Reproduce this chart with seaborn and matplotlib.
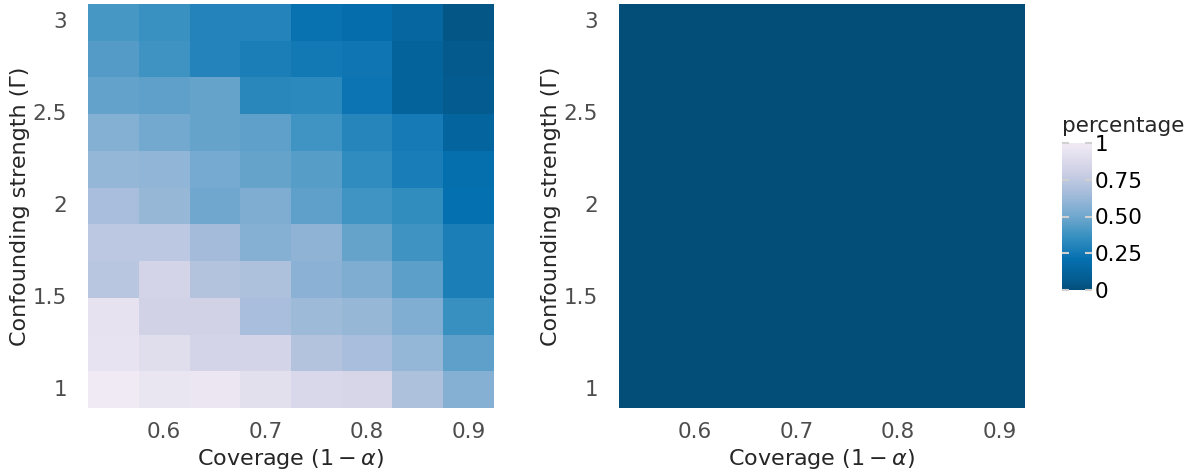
import matplotlib.pyplot as plt
import numpy as np
import pandas as pd
import seaborn as sns
from matplotlib.colors import LinearSegmentedColormap

COVERAGE = [0.55, 0.60, 0.65, 0.70, 0.75, 0.80, 0.85, 0.90]
GAMMA = [3.0, 2.8, 2.6, 2.4, 2.2, 2.0, 1.8, 1.6, 1.4, 1.2, 1.0]

# share of runs (rows: Gamma from 3 down to 1, cols: coverage)
PCT_LEFT = [
    [0.40, 0.37, 0.30, 0.30, 0.22, 0.19, 0.14, 0.04],
    [0.43, 0.38, 0.30, 0.28, 0.25, 0.24, 0.12, 0.06],
    [0.47, 0.46, 0.48, 0.32, 0.33, 0.23, 0.12, 0.07],
    [0.56, 0.51, 0.48, 0.46, 0.39, 0.31, 0.26, 0.13],
    [0.61, 0.60, 0.52, 0.48, 0.44, 0.34, 0.27, 0.20],
    [0.67, 0.62, 0.50, 0.54, 0.46, 0.39, 0.35, 0.21],
    [0.74, 0.74, 0.66, 0.57, 0.59, 0.48, 0.38, 0.28],
    [0.73, 0.83, 0.71, 0.69, 0.58, 0.54, 0.45, 0.28],
    [0.93, 0.82, 0.82, 0.67, 0.64, 0.62, 0.55, 0.36],
    [0.94, 0.90, 0.83, 0.83, 0.71, 0.67, 0.61, 0.46],
    [1.00, 0.95, 0.96, 0.92, 0.86, 0.85, 0.69, 0.57],
]
PCT_RIGHT = [[0.0] * len(COVERAGE) for _ in GAMMA]

X_TICKS = [0.6, 0.7, 0.8, 0.9]
Y_TICKS = [1, 1.5, 2, 2.5, 3]
CBAR_TICKS = [0, 0.25, 0.5, 0.75, 1]
CBAR_LABELS = ["0", "0.25", "0.50", "0.75", "1"]

# truncated, reversed PuBu
pubu = plt.get_cmap("PuBu")
cmap = LinearSegmentedColormap.from_list(
    "pubu_trunc", pubu(np.linspace(0.92, 0.1, 256))
)

sns.set_style("white")
plt.rcParams["font.family"] = ["DejaVu Sans"]

fig = plt.figure(figsize=(12.02, 4.74), dpi=100)
W, H = 1202, 474
ax_left = fig.add_axes([88 / W, 1 - 408 / H, 406 / W, 404 / H])
ax_right = fig.add_axes([619 / W, 1 - 408 / H, 406 / W, 404 / H])
cax = fig.add_axes([1062 / W, 1 - 290 / H, 30 / W, 147 / H])

dx = COVERAGE[1] - COVERAGE[0]
dy = GAMMA[0] - GAMMA[1]


def draw(ax, values, with_cbar):
    df = pd.DataFrame(values, index=GAMMA, columns=COVERAGE)
    sns.heatmap(
        df, ax=ax, cmap=cmap, vmin=0, vmax=1,
        cbar=with_cbar, cbar_ax=cax if with_cbar else None,
        linewidths=0,
    )
    x0 = COVERAGE[0] - dx / 2
    y_top = GAMMA[0] + dy / 2
    ax.set_xticks([(v - x0) / dx for v in X_TICKS])
    ax.set_xticklabels([f"{v:g}" for v in X_TICKS], rotation=0)
    ax.set_yticks([(y_top - v) / dy for v in Y_TICKS])
    ax.set_yticklabels([f"{v:g}" for v in Y_TICKS], rotation=0)
    ax.tick_params(length=0, labelsize=15.5, labelcolor="#4d4d4d")
    ax.tick_params(axis="x", pad=10)
    ax.tick_params(axis="y", pad=15)
    ax.set_xlabel(r"Coverage $(1-\alpha)$", fontsize=16, labelpad=4)
    ax.set_ylabel("Confounding strength (Γ)", fontsize=16, labelpad=2)


draw(ax_left, PCT_LEFT, False)
draw(ax_right, PCT_RIGHT, True)

cax.set_yticks(CBAR_TICKS)
cax.set_yticklabels(CBAR_LABELS)
cax.yaxis.set_ticks_position("both")
cax.tick_params(axis="y", which="both", direction="in", length=5, width=1.5,
                color="#d0d0d0", left=True, right=True,
                labelleft=False, labelright=True,
                labelsize=15.5, labelcolor="black", pad=2)
cax.yaxis.set_zorder(5)
for s in cax.spines.values():
    s.set_visible(False)
cax.set_title("percentage", fontsize=15.5, loc="left", pad=8, x=0)

fig.savefig("out.png", dpi=100)
